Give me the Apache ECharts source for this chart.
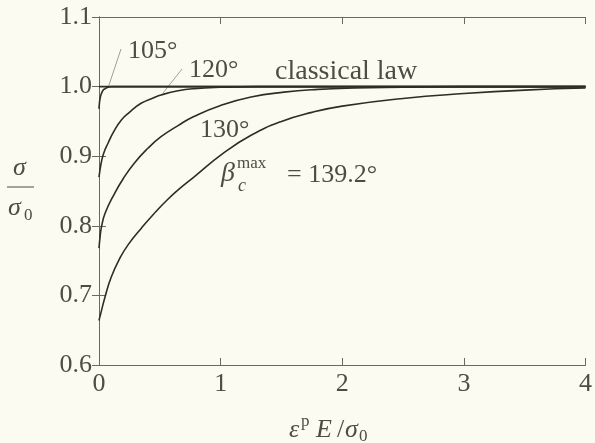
<!DOCTYPE html>
<html>
<head>
<meta charset="utf-8">
<script src="https://cdn.jsdelivr.net/npm/echarts@6/dist/echarts.min.js"></script>
<style>
html,body{margin:0;padding:0;background:#fcfbf1;}
#c{width:595px;height:443px;}
</style>
</head>
<body>
<div id="c"></div>
<script>
// ---- data ----
var xTicks = [0, 1, 2, 3, 4];
var yTicks = [0.6, 0.7, 0.8, 0.9, 1.0, 1.1];

var xClassical = [0, 4];
var yClassical = [1.0, 1.0];

var x105 = [0, 0.004, 0.01, 0.02, 0.035, 0.05, 0.075, 0.1, 0.15, 4];
var y105 = [0.968, 0.977, 0.984, 0.990, 0.995, 0.997, 0.999, 1.0, 1.0, 1.0];

var x120 = [0, 0.01, 0.02, 0.04, 0.075, 0.12, 0.184, 0.25, 0.346, 0.45, 0.51, 0.65, 0.78, 1.0, 1.3, 1.6, 4];
var y120 = [0.870, 0.882, 0.892, 0.905, 0.919, 0.935, 0.952, 0.963, 0.976, 0.984, 0.988, 0.994, 0.997, 0.999, 1.0, 1.0, 1.0];

var x130 = [0, 0.01, 0.02, 0.05, 0.13, 0.2, 0.29, 0.4, 0.51, 0.65, 0.78, 1.0, 1.25, 1.52, 1.8, 2.1, 2.5, 3.0, 4];
var y130 = [0.768, 0.786, 0.798, 0.818, 0.847, 0.868, 0.890, 0.911, 0.928, 0.944, 0.957, 0.973, 0.985, 0.992, 0.996, 0.998, 0.999, 1.0, 1.0];

var xMax = [0, 0.01, 0.05, 0.1, 0.17, 0.24, 0.35, 0.45, 0.56, 0.66, 0.78, 1.02, 1.25, 1.5, 1.75, 2.0, 2.5, 3.0, 3.5, 4.0];
var yMax = [0.664, 0.671, 0.698, 0.726, 0.753, 0.773, 0.797, 0.817, 0.837, 0.853, 0.870, 0.904, 0.930, 0.950, 0.963, 0.972, 0.983, 0.990, 0.995, 0.998];

function pairs(xs, ys){ return xs.map(function(x,i){ return [x, ys[i]]; }); }

var lineColor = '#2e2d22';
var axisColor = '#6a695a';
var textColor = '#4e4d42';
var serif = 'Liberation Serif';

function curve(name, xs, ys){
  return {
    name: name, type: 'line', data: pairs(xs, ys),
    showSymbol: false, smooth: 0.5,
    lineStyle: {color: lineColor, width: 1.6}, z: 3, silent: true
  };
}

var chart = echarts.init(document.getElementById('c'), null, {renderer: 'canvas'});

function axisCommon(pos, showLabel, isX){
  return {
    type: 'value', position: pos,
    min: isX ? xTicks[0] : yTicks[0],
    max: isX ? xTicks[xTicks.length-1] : yTicks[yTicks.length-1],
    interval: isX ? 1 : 0.1,
    axisLine: {show: true, lineStyle: {color: axisColor, width: 1}},
    axisTick: {show: true, inside: true, length: 7, lineStyle: {color: axisColor, width: 1}},
    splitLine: {show: false},
    axisLabel: {
      show: showLabel, color: textColor, fontFamily: serif, fontSize: 26,
      margin: isX ? 6 : 7,
      formatter: function(v){ return isX ? String(Math.round(v)) : v.toFixed(1); }
    }
  };
}

function txt(t, x, y, size, italic){
  return {type:'text', x:x, y:y, silent:true, z:10,
    style:{text:t, fill:textColor, fontFamily:serif, fontSize:size, fontStyle: italic ? 'italic' : 'normal',
      textAlign:'left', verticalAlign:'bottom'}};
}
function bl(t, x, base, size, italic){ return txt(t, x, base + Math.round(size*0.22), size, italic); }

var annotations = [
  bl('105°', 128, 58, 26, false),
  bl('120°', 189, 77, 26, false),
  bl('classical law', 275, 80, 28, false),
  bl('130°', 200, 137, 26, false),
  bl('β', 221, 182, 28, true),
  bl('max', 237, 168, 17, false),
  bl('c', 238, 191, 18, true),
  bl('= 139.2°', 287, 182, 26, false),
  {type:'line', silent:true, shape:{x1:108, y1:88, x2:121, y2:49}, style:{stroke:'#8a897a', lineWidth:0.8}},
  {type:'line', silent:true, shape:{x1:163, y1:93, x2:182, y2:69}, style:{stroke:'#8a897a', lineWidth:0.8}},
  bl('ε', 289, 437, 26, true),
  bl('p', 301, 426, 17, false),
  bl('E', 316, 437, 26, true),
  bl('/', 337, 437, 26, false),
  bl('σ', 345, 437, 26, true),
  bl('0', 359, 441, 17, false),
  bl('σ', 13, 175, 26, true),
  {type:'line', silent:true, shape:{x1:7, y1:187, x2:34, y2:187}, style:{stroke:textColor, lineWidth:1}},
  bl('σ', 8, 215, 26, true),
  bl('0', 24, 220, 17, false)
];

chart.setOption({
  backgroundColor: '#fcfbf1',
  animation: false,
  grid: {left: 99, right: 3, top: 17, bottom: 78, containLabel: false},
  xAxis: [axisCommon('bottom', true, true), axisCommon('top', false, true)],
  yAxis: [axisCommon('left', true, false), axisCommon('right', false, false)],
  series: [
    curve('classical law', xClassical, yClassical),
    curve('105°', x105, y105),
    curve('120°', x120, y120),
    curve('130°', x130, y130),
    curve('βcmax = 139.2°', xMax, yMax)
  ],
  graphic: annotations
});
</script>
</body>
</html>
